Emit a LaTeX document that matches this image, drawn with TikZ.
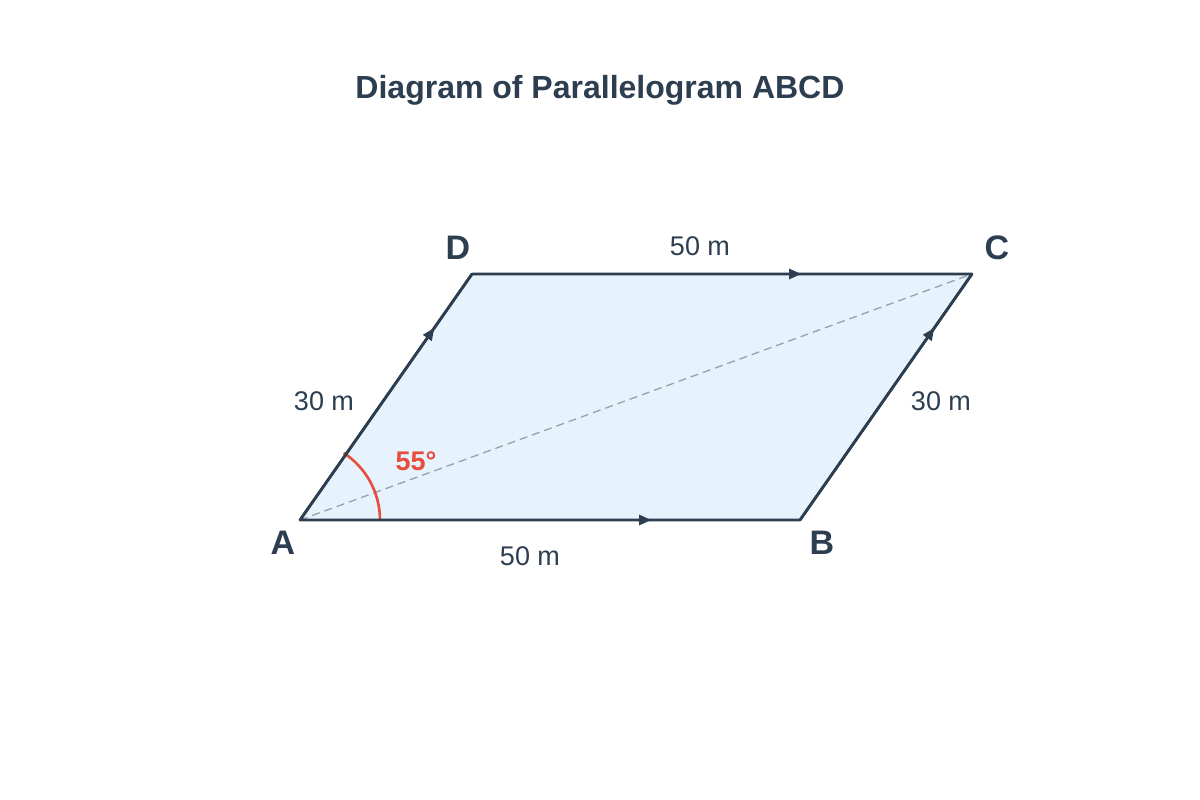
\documentclass[tikz,border=0pt]{standalone}
\usepackage{fontspec}
\setmainfont{Liberation Sans}
\usetikzlibrary{arrows.meta,decorations.markings}
\definecolor{ink}{HTML}{2C3E50}
\definecolor{fillblue}{HTML}{E6F2FC}
\definecolor{angred}{HTML}{E74C3C}
\definecolor{diaggray}{HTML}{95A5A6}
\tikzset{
  side/.style={draw=ink, line width=2.7pt},
  vlabel/.style={font=\fontsize{34}{34}\selectfont\bfseries, text=ink},
  dlabel/.style={font=\fontsize{27}{27}\selectfont, text=ink},
  mid/.style={postaction={decorate, decoration={markings,
      mark=at position #1 with {\fill[ink] (6,0) -- (-6,5.5) -- (-6,-5.5) -- cycle;}}}}
}
\begin{document}
\begin{tikzpicture}[x=1pt,y=-1pt]
\useasboundingbox (0,0) rectangle (1200,800);
\node[font=\fontsize{32}{32}\selectfont\bfseries, text=ink] (title) at (600,90) {Diagram of Parallelogram ABCD};
\coordinate (A) at (300,520);
\coordinate (B) at (800,520);
\coordinate (C) at (972,274);
\coordinate (D) at (472,274);
\fill[fillblue] (A) -- (B) -- (C) -- (D) -- cycle;
\draw[diaggray, line width=1.3pt, dash pattern=on 8pt off 5pt] (A) -- (C);
\draw[angred, line width=2.6pt] ([shift={(0:80)}]A) arc[start angle=0, end angle=-57, radius=80];
\draw[side, mid=0.69] (A) -- (B);
\draw[side, mid=0.646] (D) -- (C);
\draw[side, mid=0.76] (A) -- (D);
\draw[side, mid=0.76] (B) -- (C);
\draw[side, line join=round] (A) -- (B) -- (C) -- (D) -- cycle;
\node[vlabel] (la) at (283,543) {A};
\node[vlabel] (lb) at (822,543) {B};
\node[vlabel] (lc) at (997,248) {C};
\node[vlabel] (ld) at (458,248) {D};
\node[dlabel] (ab) at (530,556) {50 m};
\node[dlabel] (dc) at (700,246) {50 m};
\node[dlabel] (ad) at (324,401) {30 m};
\node[dlabel] (bc) at (941,401) {30 m};
\node[font=\fontsize{27}{27}\selectfont\bfseries, text=angred] (ang) at (416,461) {55°};
\end{tikzpicture}
\end{document}
